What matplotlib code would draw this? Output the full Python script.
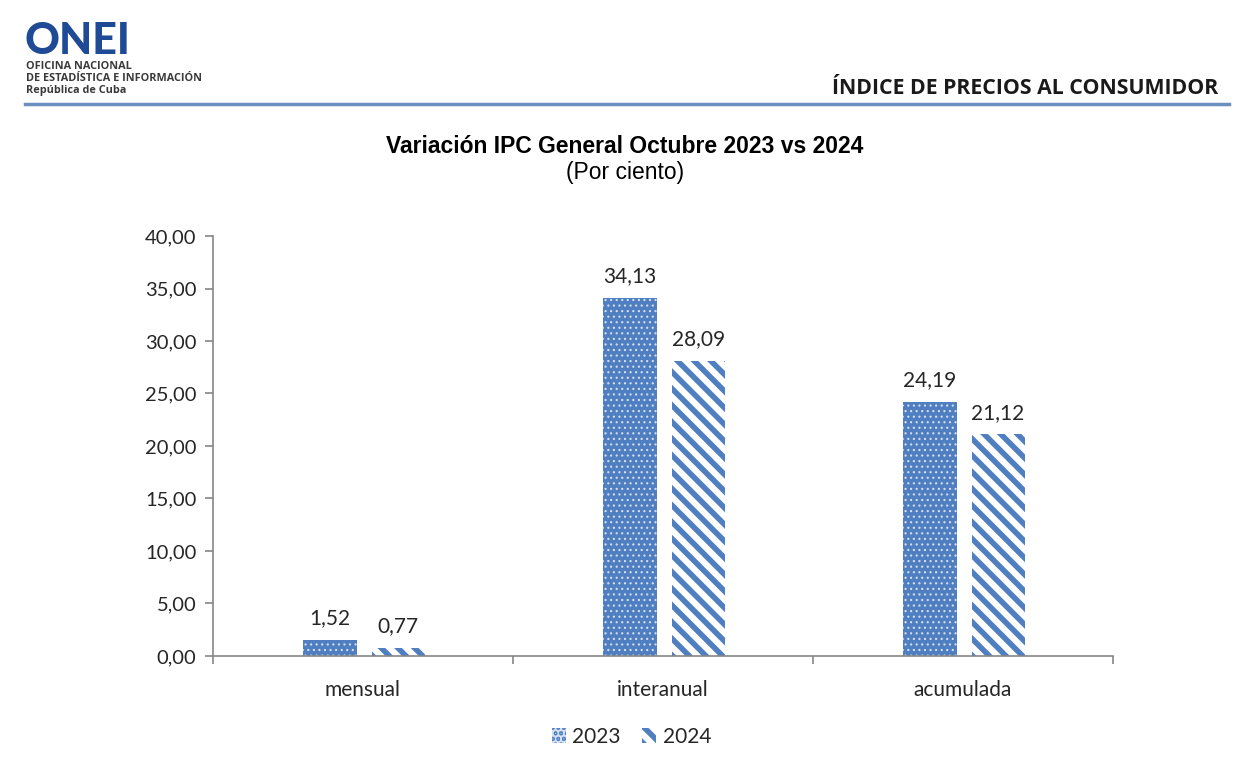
import matplotlib.pyplot as plt
import numpy as np

# datos
categorias = ["mensual", "interanual", "acumulada"]
series = ["2023", "2024"]
valores_2023 = [1.52, 34.13, 24.19]
valores_2024 = [0.77, 28.09, 21.12]
yticks = [0, 5, 10, 15, 20, 25, 30, 35, 40]

AZUL = "#4F7FC1"
GRIS = "#868686"
TEXTO = "#262626"
FUENTE = "Lato"


def coma(v):
    return f"{v:.2f}".replace(".", ",")


def grosor_trama(barras, lw):
    for p in barras:
        if hasattr(p, "set_hatch_linewidth"):
            p.set_hatch_linewidth(lw)


def main():
    plt.rcParams["hatch.linewidth"] = 4.0
    fig = plt.figure(figsize=(12.5, 7.65), dpi=100)
    ax = fig.add_axes([0.1704, 0.1425, 0.72, 0.549])

    x = np.arange(len(categorias))
    w = 0.177
    b1 = ax.bar(x - 0.11, valores_2023, w, color=AZUL, edgecolor="#D5E0F2",
                hatch="...", linewidth=0, label=series[0])
    grosor_trama(b1, 0.8)
    b2 = ax.bar(x + 0.117, valores_2024, w, color="white", edgecolor=AZUL,
                hatch="\\\\", linewidth=0, label=series[1])
    grosor_trama(b2, 4.0)

    for barras, vals in ((b1, valores_2023), (b2, valores_2024)):
        for r, v in zip(barras, vals):
            ax.text(r.get_x() + r.get_width() / 2, v + 1.1, coma(v),
                    ha="center", va="bottom", fontsize=15, color=TEXTO,
                    family=FUENTE)

    ax.set_xlim(-0.5, 2.5)
    ax.set_ylim(0, 40)
    ax.set_yticks(yticks)
    ax.set_yticklabels([coma(v) for v in yticks], fontsize=14.5, color=TEXTO,
                       family=FUENTE)
    ax.set_xticks(x)
    ax.set_xticklabels(categorias, fontsize=15, color=TEXTO, family=FUENTE)
    ax.tick_params(axis="x", length=0, pad=17)
    ax.set_xticks([-0.5, 0.5, 1.5, 2.5], minor=True)
    ax.tick_params(axis="x", which="minor", length=6, color=GRIS, width=1.2)
    ax.tick_params(axis="y", length=6, color=GRIS, width=1.2, pad=6)
    for s in ("top", "right"):
        ax.spines[s].set_visible(False)
    for s in ("left", "bottom"):
        ax.spines[s].set_color(GRIS)
        ax.spines[s].set_linewidth(1.2)

    # titulos
    fig.text(0.5, 0.808, "Variación IPC General Octubre 2023 vs 2024",
             ha="center", va="center", fontsize=16.5, fontweight="bold",
             family="Liberation Sans", color="black")
    fig.text(0.5, 0.774, "(Por ciento)", ha="center", va="center",
             fontsize=16.5, family="Liberation Sans", color="black")

    # encabezado
    fig.text(0.9744, 0.884, "ÍNDICE DE PRECIOS AL CONSUMIDOR", ha="right",
             va="center", fontsize=15.3, fontweight="bold", family="Open Sans",
             color="#1a1a1a")
    fig.add_artist(plt.Line2D([0.02, 0.983], [0.864, 0.864], color="#6B8FC0",
                              linewidth=2.5, transform=fig.transFigure))
    fig.text(0.020, 0.947, "ONEI", ha="left", va="center", fontsize=31,
             fontweight="black", family="Lato", color="#1F4A96")
    for i, linea in enumerate(["OFICINA NACIONAL",
                               "DE ESTADÍSTICA E INFORMACIÓN",
                               "República de Cuba"]):
        fig.text(0.021, 0.913 - i * 0.0157, linea, ha="left", va="center",
                 fontsize=7.8, fontweight="bold", family="Open Sans",
                 color="#3a3a3a")

    leg = fig.legend(handles=[b1, b2], labels=series, loc="center",
                     bbox_to_anchor=(0.505, 0.037), ncol=2, frameon=False,
                     prop={"family": FUENTE, "size": 15}, handlelength=0.7,
                     handleheight=0.7, handletextpad=0.3, columnspacing=1.0)
    for t in leg.get_texts():
        t.set_color(TEXTO)

    plt.savefig("out.png", dpi=100)


if __name__ == "__main__":
    main()
